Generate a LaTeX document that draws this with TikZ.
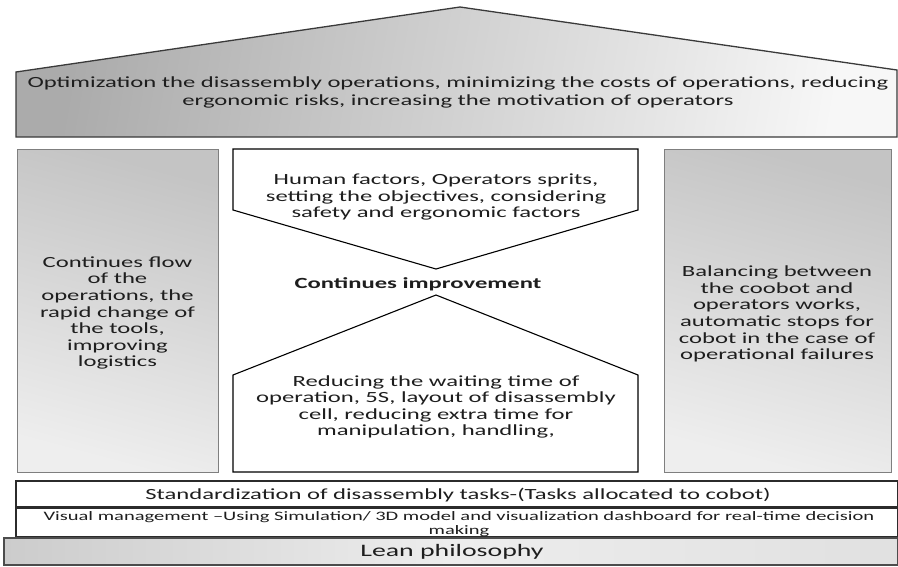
\documentclass[tikz,border=0pt]{standalone}
\usepackage{fontspec}
\setmainfont{Carlito}[FakeStretch=1.59]
\begin{document}
\begin{tikzpicture}[x=1pt,y=-1pt,
  txt/.style={text=textgray, align=center, inner sep=0pt, font=\fontsize{15.5}{16.6}\selectfont},
  pillar/.style={draw=pillarline, line width=1pt, top color=pillartop, bottom color=pillarbot, shading angle=-15},
  centerline/.style={draw=black, line width=1.1pt, fill=white},
  bandbox/.style={draw=bandline, line width=1.3pt, fill=white}]
\definecolor{textgray}{HTML}{1E1E1E}
\definecolor{pillarline}{HTML}{7F7F7F}
\definecolor{pillartop}{HTML}{C4C4C4}
\definecolor{pillarbot}{HTML}{EEEEEE}
\definecolor{bandline}{HTML}{2B2B2B}
\definecolor{roofline}{HTML}{3A3A3A}
\useasboundingbox (0,0) rectangle (898,566);
% roof
\draw[draw=roofline, line width=1.3pt, left color=black!33, right color=black!3, shading angle=80]
  (16,72) -- (460,7) -- (897,70) -- (897,137) -- (16,137) -- cycle;
\node[txt, font=\fontsize{15.5}{18}\selectfont] (roof) at (458,92)
  {Optimization the disassembly operations, minimizing the costs of operations, reducing\\ergonomic risks, increasing the motivation of operators};
% pillars
\draw[pillar] (17,149) rectangle (218,472);
\node[txt] (lefttxt) at (117.5,313) {Continues flow\\of the\\operations, the\\rapid change of\\the tools,\\improving\\logistics};
\draw[pillar] (664,149) rectangle (891,472);
\node[txt] (righttxt) at (777,314) {Balancing between\\the coobot and\\operators works,\\automatic stops for\\cobot in the case of\\operational failures};
% centre
\draw[centerline] (233,149) -- (638,149) -- (638,210) -- (436,269) -- (233,210) -- cycle;
\node[txt] (toptxt) at (436,197) {Human factors, Operators sprits,\\setting the objectives, considering\\safety and ergonomic factors};
\node[txt, font=\bfseries\fontsize{15.5}{16.6}\selectfont] (ci) at (418,284) {Continues improvement};
\draw[centerline] (436,295) -- (638,375) -- (638,472) -- (233,472) -- (233,375) -- cycle;
\node[txt] (bottxt) at (436,407) {Reducing the waiting time of\\operation, 5S, layout of disassembly\\cell, reducing extra time for\\manipulation, handling,};
% bands
\draw[bandbox] (16,481) rectangle (898,507);
\node[txt] (std) at (458,495) {Standardization of disassembly tasks-(Tasks allocated to cobot)};
\draw[bandbox] (16,508) rectangle (898,537);
\node[txt, font=\fontsize{12.9}{14}\selectfont] (vis) at (459,524) {Visual management –Using Simulation/ 3D model and visualization dashboard for real-time decision\\making};
\draw[draw=black!70, line width=1.2pt, left color=black!20, right color=black!12, middle color=black!7] (4,538) rectangle (898,565);
\node[txt, font=\fontsize{17.5}{20}\selectfont] (lean) at (452,552) {Lean philosophy};
\end{tikzpicture}
\end{document}
